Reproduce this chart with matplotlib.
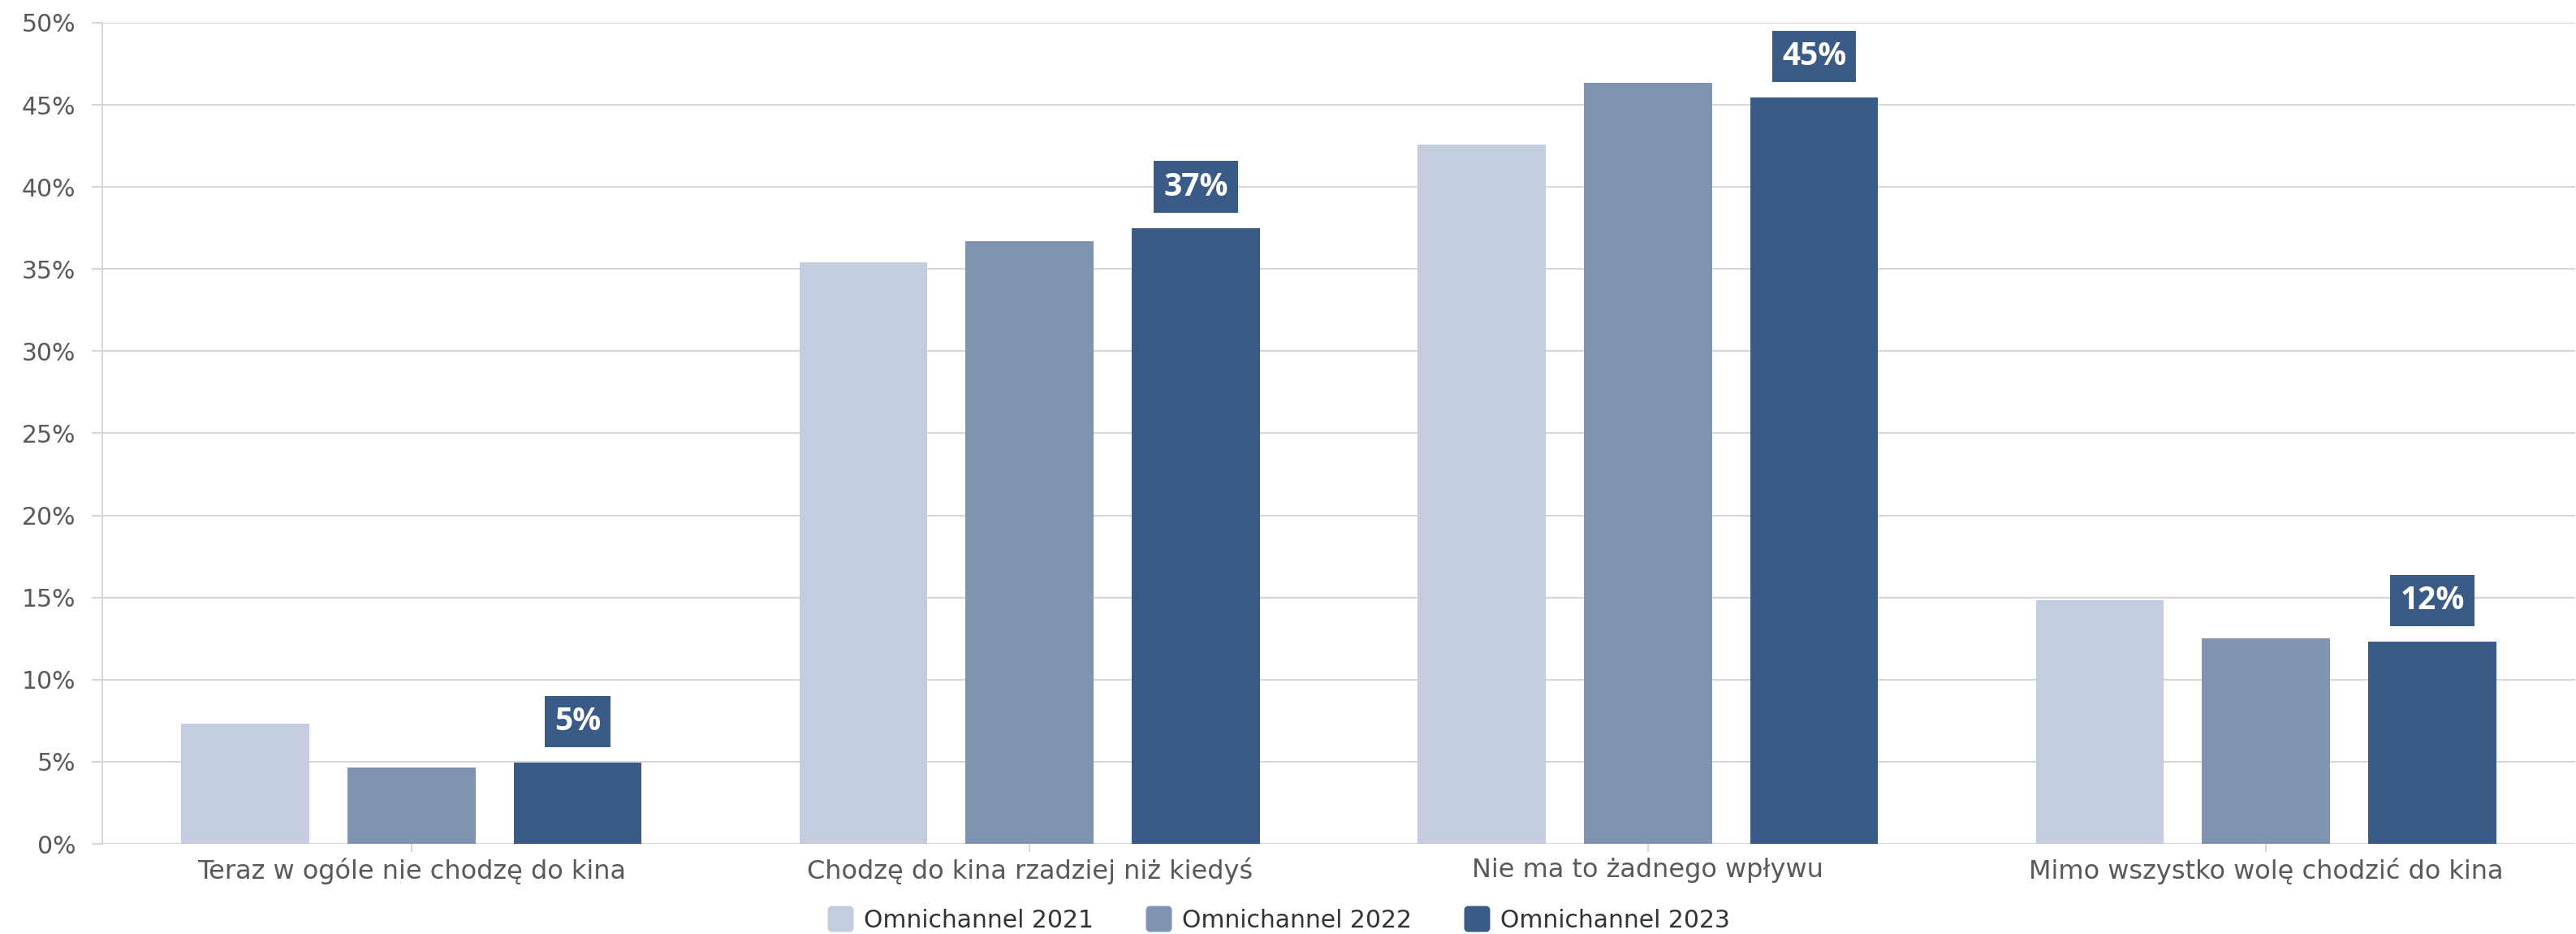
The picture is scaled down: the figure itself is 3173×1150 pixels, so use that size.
import numpy as np
import matplotlib
matplotlib.use("Agg")
import matplotlib.pyplot as plt
from matplotlib.lines import Line2D
from matplotlib.path import Path
from matplotlib.ticker import FuncFormatter, MultipleLocator

# data
categories = [
    "Teraz w ogóle nie chodzę do kina",
    "Chodzę do kina rzadziej niż kiedyś",
    "Nie ma to żadnego wpływu",
    "Mimo wszystko wolę chodzić do kina",
]
series_names = ["Omnichannel 2021", "Omnichannel 2022", "Omnichannel 2023"]
values_2021 = [7.3, 35.4, 42.6, 14.85]
values_2022 = [4.65, 36.7, 46.35, 12.5]
values_2023 = [4.95, 37.5, 45.45, 12.3]
labels_2023 = ["5%", "37%", "45%", "12%"]

colors = ["#c3cddf", "#7f93b2", "#3a5b87"]
grid_color = "#d6d6d6"
text_color = "#595959"


def rounded_square(r=0.3, n=8):
    # marker shape for the legend: square with rounded corners
    pts = []
    for cx, cy, a0 in [(1 - r, 1 - r, 0), (-1 + r, 1 - r, 90),
                       (-1 + r, -1 + r, 180), (1 - r, -1 + r, 270)]:
        for a in np.linspace(a0, a0 + 90, n):
            t = np.radians(a)
            pts.append((cx + r * np.cos(t), cy + r * np.sin(t)))
    pts.append(pts[0])
    return Path(pts, closed=True)


def main():
    plt.rcParams["font.family"] = ["DejaVu Sans"]
    fig = plt.figure(figsize=(31.73, 11.5), dpi=100)
    ax = fig.add_axes([0.0397, 0.0965, 0.9600, 0.8792])

    x = np.arange(len(categories))
    width = 0.207
    step = 0.269
    all_values = [values_2021, values_2022, values_2023]
    bars = []
    for i, vals in enumerate(all_values):
        b = ax.bar(x + (i - 1) * step, vals, width=width, color=colors[i],
                   zorder=3, label=series_names[i])
        bars.append(b)

    # value boxes over the 2023 bars
    for rect, lab in zip(bars[2], labels_2023):
        ax.annotate(lab, (rect.get_x() + rect.get_width() / 2, rect.get_height()),
                    xytext=(0, 36.5), textcoords="offset points",
                    ha="center", va="center", color="white", fontsize=28,
                    fontweight="bold", family=["Open Sans", "DejaVu Sans"],
                    bbox=dict(boxstyle="square,pad=0.31", fc=colors[2], ec="none"),
                    zorder=5)

    ax.set_xlim(-0.5, len(categories) - 0.5)
    ax.set_ylim(0, 50)
    ax.yaxis.set_major_locator(MultipleLocator(5))
    ax.yaxis.set_major_formatter(FuncFormatter(lambda v, p: f"{v:.0f}%"))
    ax.set_xticks(x)
    ax.set_xticklabels(categories)

    ax.grid(axis="y", color=grid_color, linewidth=1.5, zorder=0)
    ax.set_axisbelow(True)
    for side in ["top", "right", "bottom"]:
        ax.spines[side].set_visible(False)
    ax.spines["left"].set_color(grid_color)
    ax.spines["left"].set_linewidth(1.5)
    ax.tick_params(axis="y", length=9.5, width=1.5, color=grid_color,
                   labelsize=21.5, labelcolor=text_color, pad=14)
    ax.tick_params(axis="x", length=7, width=1.5, color=grid_color,
                   labelsize=23, labelcolor=text_color, pad=5)

    marker = rounded_square()
    handles = [Line2D([], [], linestyle="none", marker=marker, markersize=23,
                      markerfacecolor=c, markeredgecolor="none") for c in colors]
    fig.legend(handles, series_names, loc="center", bbox_to_anchor=(0.4965, 0.0145),
               ncol=3, frameon=False, fontsize=21.5, labelcolor="#333333",
               handletextpad=0.45, columnspacing=2.2, handlelength=1.0)

    fig.savefig("out.png", dpi=100)


if __name__ == "__main__":
    main()
